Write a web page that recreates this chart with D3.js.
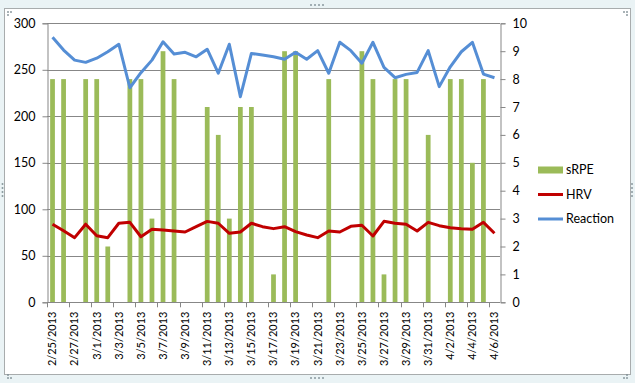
<!DOCTYPE html>
<html><head><meta charset="utf-8">
<script src="https://cdn.jsdelivr.net/npm/d3@7"></script>
<style>
html,body{margin:0;padding:0;background:#fff;}
svg{display:block;font-family:Lato, "Open Sans", sans-serif;}
</style></head>
<body><svg id="c" width="635" height="383"></svg>
<script>
const dates = ["2/25/2013","2/26/2013","2/27/2013","2/28/2013","3/1/2013","3/2/2013","3/3/2013","3/4/2013","3/5/2013","3/6/2013","3/7/2013","3/8/2013","3/9/2013","3/10/2013","3/11/2013","3/12/2013","3/13/2013","3/14/2013","3/15/2013","3/16/2013","3/17/2013","3/18/2013","3/19/2013","3/20/2013","3/21/2013","3/22/2013","3/23/2013","3/24/2013","3/25/2013","3/26/2013","3/27/2013","3/28/2013","3/29/2013","3/30/2013","3/31/2013","4/1/2013","4/2/2013","4/3/2013","4/4/2013","4/5/2013","4/6/2013"];
const sRPE = [240,240,0,240,240,60,0,240,240,90,270,240,0,0,210,180,90,210,210,0,30,270,270,0,0,240,0,0,270,240,30,240,240,0,180,0,240,240,150,240,0];
const HRV = [84,77,69.5,84,71.6,69.5,85,86,70.5,78.5,77.7,76.7,75.6,81.3,87,85,74.2,75.6,85,81.3,79.2,81.3,76,72.4,69.5,76.7,75.6,81.7,82.8,71.3,87.1,85,83.9,76.7,86,82.4,80.2,79.2,78.5,86,74.2];
const Reaction = [9.50,9.04,8.68,8.60,8.75,8.98,9.25,7.69,8.23,8.68,9.34,8.90,8.96,8.80,9.07,8.21,9.25,7.37,8.92,8.86,8.80,8.71,8.96,8.71,9.02,8.21,9.32,9.02,8.57,9.32,8.42,8.05,8.17,8.24,9.02,7.73,8.44,8.98,9.32,8.18,8.05];
const leftTicks = [0,50,100,150,200,250,300];
const rightTicks = [0,1,2,3,4,5,6,7,8,9,10];
const seriesNames = ["sRPE","HRV","Reaction"];
const colors = {sRPE:"#9BBB59", HRV:"#C00000", Reaction:"#558ED5"};

const svg = d3.select("#c");
// frame
svg.append("rect").attr("x",0).attr("y",0).attr("width",635).attr("height",383).attr("fill","#eaf3f5");
svg.append("rect").attr("x",4.5).attr("y",8.5).attr("width",626).attr("height",366).attr("fill","#fff").attr("stroke","#a8acad");
// handles
const dots = [];
for(let k=0;k<4;k++){dots.push([311+k*4,5]);dots.push([2.5,184+k*4]);dots.push([632,184+k*4]);dots.push([311+k*4,378]);}
dots.push([8,12],[11,12],[8,15],[624,12],[627,12],[627,15],[8,378],[11,378],[8,375],[627,378],[624,378],[627,375]);
svg.selectAll("rect.dot").data(dots).enter().append("rect").attr("class","dot")
  .attr("x",d=>d[0]-0.8).attr("y",d=>d[1]-0.8).attr("width",1.6).attr("height",1.6).attr("fill","#7a8a90");

const L=47, R=500, T=23.3, B=302.3;
const x = d3.scaleBand().domain(dates).range([L,R]).paddingInner(0).paddingOuter(0);
const yL = d3.scaleLinear().domain([0,300]).range([B,T]);
const yR = d3.scaleLinear().domain([0,10]).range([B,T]);
const cx = d => x(d)+x.bandwidth()/2;

// gridlines
svg.append("g").selectAll("line").data(leftTicks.filter(v=>v>0)).enter().append("line")
  .attr("x1",L).attr("x2",R).attr("y1",d=>Math.round(yL(d))+0.5).attr("y2",d=>Math.round(yL(d))+0.5)
  .attr("stroke","#878787").attr("stroke-width",1);

// bars
const bw = x.bandwidth()*0.43;
svg.append("g").selectAll("rect").data(dates.map((d,i)=>({d,v:sRPE[i]})).filter(o=>o.v>0)).enter().append("rect")
  .attr("x",o=>cx(o.d)-bw/2).attr("width",bw).attr("y",o=>yL(o.v)).attr("height",o=>B-yL(o.v))
  .attr("fill",colors.sRPE);

// axes
const axL = svg.append("g").attr("transform",`translate(${L+0.5},0)`)
  .call(d3.axisLeft(yL).tickValues(leftTicks).tickSize(5).tickPadding(7));
const axR = svg.append("g").attr("transform",`translate(${R+0.5},0)`)
  .call(d3.axisRight(yR).tickValues(rightTicks).tickSize(5).tickPadding(7));
const axB = svg.append("g").attr("transform",`translate(0,${Math.round(B)+0.5})`)
  .call(d3.axisBottom(x).tickValues(dates.filter((d,i)=>i%2===0)).tickSize(0).tickPadding(0));
// bottom tick marks at every other band boundary
svg.append("g").selectAll("line").data(d3.range(0,dates.length+1,2)).enter().append("line")
  .attr("x1",i=>Math.round(L+i*x.step())+0.5).attr("x2",i=>Math.round(L+i*x.step())+0.5)
  .attr("y1",B).attr("y2",B+5).attr("stroke","#878787");
[axL,axR,axB].forEach(a=>{
  a.select(".domain").attr("stroke","#878787");
  a.selectAll(".tick line").attr("stroke","#878787");
  a.selectAll("text").attr("fill","#000").style("font-family","Lato, sans-serif");
});
axL.selectAll("text").style("font-size","12.5px");
axR.selectAll("text").style("font-size","12.5px");
axB.selectAll("text").style("font-size","11px")
  .attr("transform","rotate(-90)").attr("text-anchor","end").attr("dy","0.35em").attr("x",-9).attr("y",0);
axB.select(".domain").attr("d",`M${L},0H${R}`);

// lines
const lineL = d3.line().x((v,i)=>cx(dates[i])).y(v=>yL(v));
const lineR = d3.line().x((v,i)=>cx(dates[i])).y(v=>yR(v));
svg.append("path").attr("d",lineL(HRV)).attr("fill","none").attr("stroke",colors.HRV).attr("stroke-width",3).attr("stroke-linejoin","round");
svg.append("path").attr("d",lineR(Reaction)).attr("fill","none").attr("stroke",colors.Reaction).attr("stroke-width",3).attr("stroke-linejoin","round");

// legend
const lg = svg.append("g").attr("transform","translate(538,170)");
seriesNames.forEach((n,i)=>{
  const g = lg.append("g").attr("transform",`translate(0,${i*24.5})`);
  if(n==="sRPE") g.append("rect").attr("x",0).attr("y",-3.5).attr("width",25).attr("height",7).attr("fill",colors.sRPE);
  else g.append("line").attr("x1",0).attr("x2",25).attr("y1",0).attr("y2",0).attr("stroke",colors[n]).attr("stroke-width",3);
  g.append("text").attr("x",28).attr("y",0).attr("dy","0.35em").style("font-size","12.5px").text(n);
});
</script></body></html>
